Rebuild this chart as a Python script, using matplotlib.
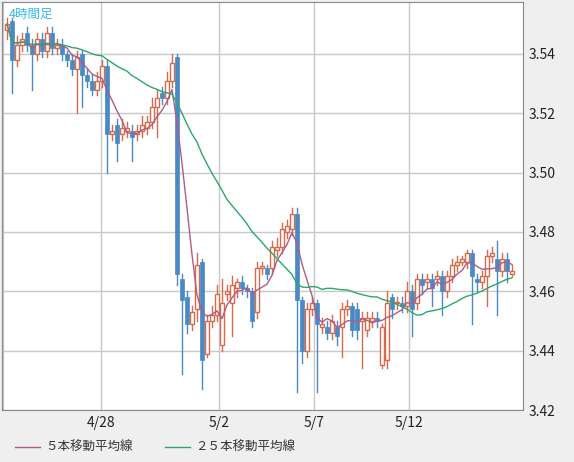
import matplotlib.pyplot as plt
import pandas as pd
from matplotlib.patches import Rectangle

plt.rcParams['font.family'] = ['Noto Sans CJK JP', 'DejaVu Sans']

# 4-hour candles
opens = [3.548, 3.551, 3.538, 3.543, 3.547, 3.543, 3.540, 3.545, 3.541, 3.547,
         3.542, 3.543, 3.540, 3.538, 3.535, 3.540, 3.533, 3.531, 3.528, 3.531,
         3.536, 3.513, 3.516, 3.513, 3.514, 3.514, 3.513, 3.514, 3.515, 3.517,
         3.522, 3.527, 3.525, 3.531, 3.539, 3.464, 3.458, 3.449, 3.454, 3.470,
         3.439, 3.450, 3.452, 3.442, 3.459, 3.456, 3.461, 3.463, 3.461, 3.460,
         3.453, 3.468, 3.468, 3.468, 3.474, 3.475, 3.480, 3.481, 3.486, 3.457,
         3.440, 3.454, 3.456, 3.448, 3.448, 3.446, 3.448, 3.448, 3.454, 3.455,
         3.454, 3.450, 3.447, 3.450, 3.451, 3.435, 3.437, 3.458, 3.456, 3.456,
         3.455, 3.460, 3.456, 3.464, 3.463, 3.464, 3.464, 3.465, 3.460, 3.465,
         3.469, 3.470, 3.470, 3.473, 3.464, 3.463, 3.465, 3.472, 3.471, 3.467,
         3.471, 3.466]
closes = [3.550, 3.538, 3.543, 3.545, 3.543, 3.540, 3.545, 3.541, 3.547, 3.542,
          3.543, 3.540, 3.538, 3.535, 3.539, 3.533, 3.531, 3.528, 3.531, 3.536,
          3.513, 3.514, 3.510, 3.515, 3.515, 3.512, 3.514, 3.516, 3.517, 3.522,
          3.525, 3.525, 3.531, 3.537, 3.466, 3.457, 3.449, 3.453, 3.469, 3.437,
          3.450, 3.452, 3.459, 3.456, 3.460, 3.462, 3.463, 3.461, 3.460, 3.450,
          3.468, 3.468, 3.466, 3.475, 3.475, 3.481, 3.482, 3.486, 3.457, 3.440,
          3.454, 3.456, 3.449, 3.449, 3.446, 3.450, 3.445, 3.454, 3.455, 3.447,
          3.447, 3.451, 3.451, 3.451, 3.450, 3.448, 3.456, 3.454, 3.456, 3.455,
          3.460, 3.454, 3.464, 3.462, 3.464, 3.461, 3.465, 3.460, 3.465, 3.469,
          3.470, 3.471, 3.473, 3.465, 3.463, 3.465, 3.472, 3.473, 3.467, 3.471,
          3.467, 3.467]
highs = [3.552, 3.552, 3.546, 3.547, 3.549, 3.545, 3.547, 3.547, 3.549, 3.549,
         3.545, 3.545, 3.541, 3.540, 3.541, 3.541, 3.535, 3.533, 3.534, 3.538,
         3.538, 3.516, 3.518, 3.518, 3.517, 3.516, 3.516, 3.519, 3.519, 3.525,
         3.528, 3.529, 3.534, 3.540, 3.540, 3.466, 3.460, 3.455, 3.473, 3.471,
         3.452, 3.455, 3.462, 3.464, 3.462, 3.465, 3.464, 3.465, 3.462, 3.461,
         3.470, 3.470, 3.469, 3.477, 3.478, 3.483, 3.484, 3.488, 3.488, 3.458,
         3.456, 3.458, 3.457, 3.451, 3.450, 3.452, 3.450, 3.456, 3.457, 3.456,
         3.456, 3.453, 3.453, 3.453, 3.453, 3.449, 3.460, 3.459, 3.458, 3.458,
         3.463, 3.462, 3.466, 3.466, 3.466, 3.466, 3.467, 3.467, 3.467, 3.471,
         3.472, 3.472, 3.474, 3.474, 3.466, 3.467, 3.474, 3.475, 3.477, 3.473,
         3.473, 3.469]
lows = [3.545, 3.527, 3.536, 3.541, 3.541, 3.528, 3.538, 3.539, 3.539, 3.540,
        3.540, 3.538, 3.536, 3.533, 3.520, 3.522, 3.529, 3.526, 3.526, 3.529,
        3.500, 3.511, 3.504, 3.511, 3.512, 3.504, 3.511, 3.512, 3.513, 3.515,
        3.512, 3.523, 3.523, 3.529, 3.462, 3.432, 3.446, 3.447, 3.450, 3.427,
        3.438, 3.448, 3.450, 3.440, 3.457, 3.445, 3.458, 3.459, 3.458, 3.448,
        3.451, 3.466, 3.464, 3.466, 3.472, 3.473, 3.478, 3.479, 3.426, 3.436,
        3.438, 3.452, 3.426, 3.446, 3.444, 3.444, 3.442, 3.438, 3.452, 3.445,
        3.444, 3.434, 3.445, 3.448, 3.448, 3.434, 3.434, 3.451, 3.454, 3.453,
        3.453, 3.445, 3.454, 3.459, 3.461, 3.455, 3.462, 3.452, 3.458, 3.463,
        3.467, 3.469, 3.468, 3.449, 3.460, 3.461, 3.455, 3.470, 3.452, 3.465,
        3.463, 3.465]
date_labels = ['4/28', '5/2', '5/7', '5/12']
date_pos = [18.8, 42.4, 61.4, 80.4]

up_col = '#d9694a'
down_col = '#4a8ac4'

fig = plt.figure(figsize=(5.74, 4.62), dpi=100)
fig.patch.set_facecolor('#efefef')
ax = fig.add_axes([2 / 574, 52 / 462, 521 / 574, 408 / 462])
ax.set_facecolor('white')

for i in range(len(opens)):
    o, c, h, l = opens[i], closes[i], highs[i], lows[i]
    col = up_col if c >= o else down_col
    ax.plot([i, i], [l, h], color=col, lw=1, zorder=2)
    bottom = min(o, c)
    height = max(abs(c - o), 0.0004)
    if c >= o:
        rect = Rectangle((i - 0.35, bottom), 0.7, height, facecolor='white', edgecolor=col, lw=1, zorder=3)
    else:
        rect = Rectangle((i - 0.4, bottom), 0.8, height, facecolor=col, edgecolor=col, lw=0.5, zorder=3)
    ax.add_patch(rect)

s = pd.Series(closes)
ma5 = s.rolling(5, min_periods=1).mean()
ma25 = s.rolling(25, min_periods=1).mean()
ax.plot(range(len(closes)), ma5, color='#b05a8a', lw=1, zorder=4)
ax.plot(range(len(closes)), ma25, color='#2aa86a', lw=1, zorder=4)

ax.set_xlim(-1, 103.2)
ax.set_ylim(3.42, 3.5575)
ax.set_yticks([3.42, 3.44, 3.46, 3.48, 3.50, 3.52, 3.54])
ax.set_yticklabels([f'{v:.2f}' for v in [3.42, 3.44, 3.46, 3.48, 3.50, 3.52, 3.54]])
ax.yaxis.tick_right()
ax.set_xticks([-0.9] + date_pos)
ax.set_xticklabels([''] + date_labels)
ax.tick_params(length=0, labelsize=10, colors='#222222', pad=4)
ax.grid(True, color='#c8c8c8', lw=1)
ax.set_axisbelow(True)
for sp in ax.spines.values():
    sp.set_color('#888888')

ax.text(0.013, 0.985, '4時間足', transform=ax.transAxes, color='#33bbee', fontsize=9, va='top')

fig.lines.append(plt.Line2D([15 / 574, 40 / 574], [15 / 462, 15 / 462], color='#b05a8a', lw=1, transform=fig.transFigure))
fig.text(45 / 574, 15 / 462, '５本移動平均線', fontsize=9, va='center', color='#333333')
fig.lines.append(plt.Line2D([165 / 574, 190 / 574], [15 / 462, 15 / 462], color='#2aa86a', lw=1, transform=fig.transFigure))
fig.text(195 / 574, 15 / 462, '２５本移動平均線', fontsize=9, va='center', color='#333333')

fig.savefig('out.png', dpi=100, facecolor=fig.get_facecolor())
